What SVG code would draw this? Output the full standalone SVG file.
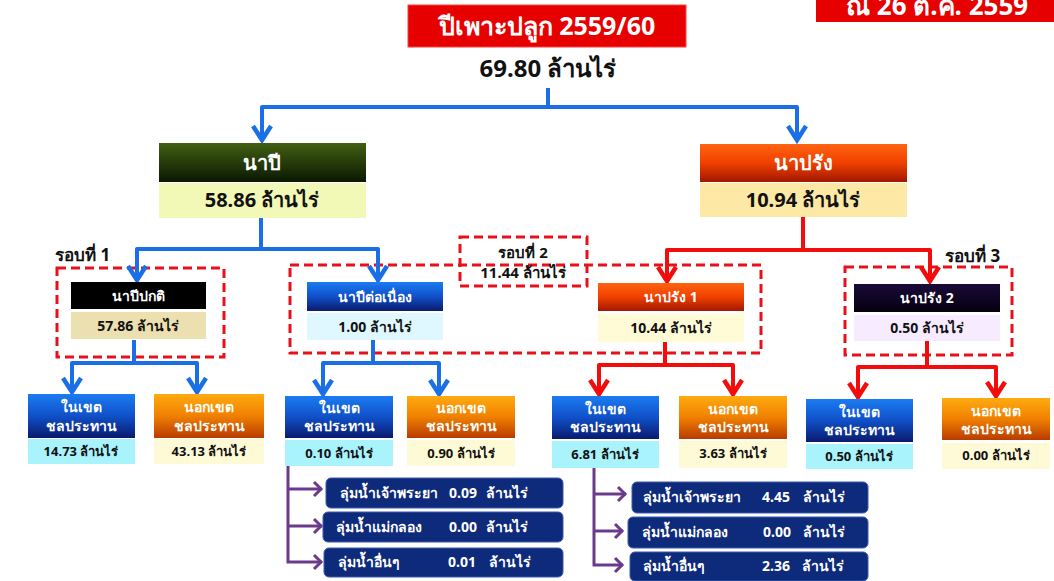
<svg xmlns="http://www.w3.org/2000/svg" width="1054" height="581" viewBox="0 0 1054 581">
<style>
text{font-family:"Noto Sans","DejaVu Sans","Liberation Sans",sans-serif;font-weight:bold;}
.w{fill:#fff;}
.k{fill:#111;}
.c{text-anchor:middle;}
.big{font-size:24px;}
.mid{font-size:20px;}
.sm{font-size:14px;}
.xs{font-size:13px;}
.nv{font-size:14px;fill:#fff;}
.blue{stroke:#1a6fe6;stroke-width:4;fill:none;stroke-linejoin:round;}
.red{stroke:#f20c0c;stroke-width:4;fill:none;stroke-linejoin:round;}
.pur{stroke:#6b3a8c;stroke-width:3;fill:none;}
.dash{stroke:#e8101a;stroke-width:3;fill:none;stroke-dasharray:9 5;}
.navy{fill:#0e2a7a;stroke:#3a5ab0;stroke-width:1;}
</style>
<defs>
<linearGradient id="gGreen" x1="0" y1="0" x2="0" y2="1"><stop offset="0" stop-color="#425f12"/><stop offset="1" stop-color="#0a1802"/></linearGradient>
<linearGradient id="gRedOr" x1="0" y1="0" x2="0" y2="1"><stop offset="0" stop-color="#ff6410"/><stop offset="0.5" stop-color="#f04000"/><stop offset="1" stop-color="#a01800"/></linearGradient>
<linearGradient id="gBlue" x1="0" y1="0" x2="0" y2="1"><stop offset="0" stop-color="#1b7cf2"/><stop offset="0.5" stop-color="#1050c8"/><stop offset="1" stop-color="#0a1a6e"/></linearGradient>
<linearGradient id="gOrange" x1="0" y1="0" x2="0" y2="1"><stop offset="0" stop-color="#ffab10"/><stop offset="0.5" stop-color="#f08000"/><stop offset="1" stop-color="#b83c00"/></linearGradient>
<linearGradient id="gNavyDark" x1="0" y1="0" x2="0" y2="1"><stop offset="0" stop-color="#1a0a38"/><stop offset="1" stop-color="#05000f"/></linearGradient>
<marker id="aBlue" markerUnits="userSpaceOnUse" markerWidth="30" markerHeight="30" viewBox="-20 -15 30 30" refX="0" refY="0" orient="auto"><path d="M-15,-9 L-1,0 L-15,9" fill="none" stroke="#1a6fe6" stroke-width="4.5" stroke-linejoin="miter"/></marker>
<marker id="aRed" markerUnits="userSpaceOnUse" markerWidth="30" markerHeight="30" viewBox="-20 -15 30 30" refX="0" refY="0" orient="auto"><path d="M-15,-9 L-1,0 L-15,9" fill="none" stroke="#f20c0c" stroke-width="4.5" stroke-linejoin="miter"/></marker>
<marker id="aPur" markerUnits="userSpaceOnUse" markerWidth="20" markerHeight="20" viewBox="-12 -10 20 20" refX="0" refY="0" orient="auto"><path d="M-8,-7 L-1,0 L-8,7" fill="none" stroke="#6b3a8c" stroke-width="3"/></marker>
</defs>
<rect width="1054" height="581" fill="#fff"/>

<g id="groups">
<rect class="dash" x="57" y="268" width="167" height="89"/>
<rect class="dash" x="290" y="265" width="471" height="88"/>
<rect class="dash" x="845" y="267" width="167" height="88"/>
<rect class="dash" x="460" y="237" width="127" height="49" fill="#fff"/>
<text class="k c" x="523" y="258" font-size="15">รอบที่ 2</text>
<text class="k c" x="523" y="278" font-size="15">11.44 ล้านไร่</text>
<text class="k" x="55" y="261" font-size="17">รอบที่ 1</text>
<text class="k" x="945" y="262" font-size="17">รอบที่ 3</text>
</g>

<g id="connectors">
<path class="blue" d="M548,88 V107"/>
<path class="blue" d="M548,107 H262 V141" marker-end="url(#aBlue)"/>
<path class="blue" d="M548,107 H797 V141" marker-end="url(#aBlue)"/>
<path class="blue" d="M261,218 V249 H137 V281" marker-end="url(#aBlue)"/>
<path class="blue" d="M261,249 H378 V281" marker-end="url(#aBlue)"/>
<path class="red" d="M803,217 V250 H667 V282" marker-end="url(#aRed)"/>
<path class="red" d="M803,250 H930 V282" marker-end="url(#aRed)"/>
<path class="blue" d="M134,340 V363 H72 V393" marker-end="url(#aBlue)"/>
<path class="blue" d="M134,363 H197 V393" marker-end="url(#aBlue)"/>
<path class="blue" d="M373,340 V363 H323 V395" marker-end="url(#aBlue)"/>
<path class="blue" d="M373,363 H439 V395" marker-end="url(#aBlue)"/>
<path class="red" d="M665,342 V365 H599 V395" marker-end="url(#aRed)"/>
<path class="red" d="M665,365 H733 V395" marker-end="url(#aRed)"/>
<path class="red" d="M927,341 V367 H858 V398" marker-end="url(#aRed)"/>
<path class="red" d="M927,367 H996 V397" marker-end="url(#aRed)"/>
<path class="pur" d="M288,466 V562 H322" marker-end="url(#aPur)"/>
<path class="pur" d="M288,489 H322" marker-end="url(#aPur)"/>
<path class="pur" d="M288,526 H322" marker-end="url(#aPur)"/>
<path class="pur" d="M594,467 V565 H623" marker-end="url(#aPur)"/>
<path class="pur" d="M594,494 H626" marker-end="url(#aPur)"/>
<path class="pur" d="M594,531 H623" marker-end="url(#aPur)"/>
</g>

<g id="title">
<rect x="408" y="5" width="278" height="42" fill="#e60000" stroke="#ff4040" stroke-width="1"/>
<text class="w c" x="547" y="35" font-size="25">ปีเพาะปลูก 2559/60</text>
</g>
<g id="date">
<rect x="816" y="-4" width="240" height="26" fill="#e60000"/>
<text class="w" x="846" y="15" font-size="26">ณ 26 ต.ค. 2559</text>
</g>
<g id="total">
<text class="k c big" x="548" y="77">69.80 ล้านไร่</text>
</g>

<g id="napi">
<rect x="159" y="143" width="207" height="39" fill="url(#gGreen)"/>
<text class="w c mid" x="262" y="170">นาปี</text>
<rect x="159" y="183" width="207" height="35" fill="#f2f8b6"/>
<text class="k c mid" x="262" y="207">58.86 ล้านไร่</text>
</g>
<g id="naprang">
<rect x="700" y="144" width="207" height="38" fill="url(#gRedOr)"/>
<text class="w c mid" x="803" y="170">นาปรัง</text>
<rect x="700" y="183" width="207" height="34" fill="#fde8a6"/>
<text class="k c mid" x="803" y="207">10.94 ล้านไร่</text>
</g>

<g id="napi-pakati">
<rect x="71" y="282" width="135" height="27" fill="#000"/>
<text class="w c sm" x="138" y="301">นาปีปกติ</text>
<rect x="71" y="312" width="135" height="27" fill="#ecdfb0"/>
<text class="k c sm" x="138" y="331">57.86 ล้านไร่</text>
</g>
<g id="napi-tonueang">
<rect x="307" y="282" width="136" height="29" fill="url(#gBlue)"/>
<text class="w c sm" x="375" y="302">นาปีต่อเนื่อง</text>
<rect x="307" y="313" width="136" height="27" fill="#dff8ff"/>
<text class="k c sm" x="375" y="332">1.00 ล้านไร่</text>
</g>
<g id="naprang-1">
<rect x="598" y="283" width="146" height="28" fill="url(#gRedOr)"/>
<text class="w c sm" x="671" y="302">นาปรัง 1</text>
<rect x="598" y="314" width="146" height="28" fill="#fffbd6"/>
<text class="k c sm" x="671" y="333">10.44 ล้านไร่</text>
</g>
<g id="naprang-2">
<rect x="854" y="284" width="146" height="28" fill="url(#gNavyDark)"/>
<text class="w c sm" x="927" y="303">นาปรัง 2</text>
<rect x="854" y="315" width="146" height="26" fill="#f7ecff"/>
<text class="k c sm" x="927" y="333">0.50 ล้านไร่</text>
</g>

<g id="in-1">
<rect x="28" y="394" width="107" height="44" fill="url(#gBlue)"/>
<text class="w c sm" x="81" y="412">ในเขต</text>
<text class="w c sm" x="81" y="431">ชลประทาน</text>
<rect x="28" y="439" width="107" height="25" fill="#a8f3fc"/>
<text class="k c xs" x="81" y="456">14.73 ล้านไร่</text>
</g>
<g id="out-1">
<rect x="154" y="394" width="110" height="44" fill="url(#gOrange)"/>
<text class="w c sm" x="209" y="412">นอกเขต</text>
<text class="w c sm" x="209" y="431">ชลประทาน</text>
<rect x="154" y="439" width="110" height="25" fill="#fffad6"/>
<text class="k c xs" x="209" y="456">43.13 ล้านไร่</text>
</g>
<g id="in-2">
<rect x="285" y="396" width="108" height="42" fill="url(#gBlue)"/>
<text class="w c sm" x="339" y="413">ในเขต</text>
<text class="w c sm" x="339" y="431">ชลประทาน</text>
<rect x="285" y="440" width="108" height="26" fill="#a8f3fc"/>
<text class="k c xs" x="339" y="458">0.10 ล้านไร่</text>
</g>
<g id="out-2">
<rect x="407" y="396" width="108" height="42" fill="url(#gOrange)"/>
<text class="w c sm" x="461" y="413">นอกเขต</text>
<text class="w c sm" x="461" y="431">ชลประทาน</text>
<rect x="407" y="440" width="108" height="26" fill="#fffad6"/>
<text class="k c xs" x="461" y="458">0.90 ล้านไร่</text>
</g>
<g id="in-3">
<rect x="552" y="396" width="107" height="43" fill="url(#gBlue)"/>
<text class="w c sm" x="605" y="414">ในเขต</text>
<text class="w c sm" x="605" y="432">ชลประทาน</text>
<rect x="552" y="441" width="107" height="27" fill="#a8f3fc"/>
<text class="k c xs" x="605" y="459">6.81 ล้านไร่</text>
</g>
<g id="out-3">
<rect x="679" y="396" width="108" height="43" fill="url(#gOrange)"/>
<text class="w c sm" x="733" y="414">นอกเขต</text>
<text class="w c sm" x="733" y="432">ชลประทาน</text>
<rect x="679" y="441" width="108" height="27" fill="#fffad6"/>
<text class="k c xs" x="733" y="458">3.63 ล้านไร่</text>
</g>
<g id="in-4">
<rect x="806" y="399" width="107" height="43" fill="url(#gBlue)"/>
<text class="w c sm" x="859" y="417">ในเขต</text>
<text class="w c sm" x="859" y="435">ชลประทาน</text>
<rect x="806" y="444" width="107" height="25" fill="#a8f3fc"/>
<text class="k c xs" x="859" y="461">0.50 ล้านไร่</text>
</g>
<g id="out-4">
<rect x="942" y="398" width="108" height="42" fill="url(#gOrange)"/>
<text class="w c sm" x="996" y="416">นอกเขต</text>
<text class="w c sm" x="996" y="434">ชลประทาน</text>
<rect x="942" y="443" width="108" height="26" fill="#fffad6"/>
<text class="k c xs" x="996" y="460">0.00 ล้านไร่</text>
</g>

<g id="basin-l1">
<rect class="navy" x="326" y="478" width="237" height="30" rx="5"/>
<text class="nv" x="340" y="498">ลุ่มน้ำเจ้าพระยา</text>
<text class="nv" x="449" y="498">0.09</text>
<text class="nv" x="486" y="498">ล้านไร่</text>
</g>
<g id="basin-l2">
<rect class="navy" x="323" y="512" width="240" height="30" rx="5"/>
<text class="nv" x="336" y="532">ลุ่มน้ำแม่กลอง</text>
<text class="nv" x="449" y="532">0.00</text>
<text class="nv" x="486" y="532">ล้านไร่</text>
</g>
<g id="basin-l3">
<rect class="navy" x="324" y="548" width="239" height="29" rx="5"/>
<text class="nv" x="338" y="567">ลุ่มน้ำอื่นๆ</text>
<text class="nv" x="448" y="567">0.01</text>
<text class="nv" x="489" y="567">ล้านไร่</text>
</g>
<g id="basin-r1">
<rect class="navy" x="632" y="482" width="236" height="31" rx="5"/>
<text class="nv" x="643" y="502">ลุ่มน้ำเจ้าพระยา</text>
<text class="nv" x="762" y="502">4.45</text>
<text class="nv" x="803" y="502">ล้านไร่</text>
</g>
<g id="basin-r2">
<rect class="navy" x="628" y="517" width="240" height="31" rx="5"/>
<text class="nv" x="642" y="537">ลุ่มน้ำแม่กลอง</text>
<text class="nv" x="763" y="537">0.00</text>
<text class="nv" x="803" y="537">ล้านไร่</text>
</g>
<g id="basin-r3">
<rect class="navy" x="630" y="552" width="238" height="29" rx="5"/>
<text class="nv" x="643" y="571">ลุ่มน้ำอื่นๆ</text>
<text class="nv" x="762" y="571">2.36</text>
<text class="nv" x="802" y="571">ล้านไร่</text>
</g>
</svg>
